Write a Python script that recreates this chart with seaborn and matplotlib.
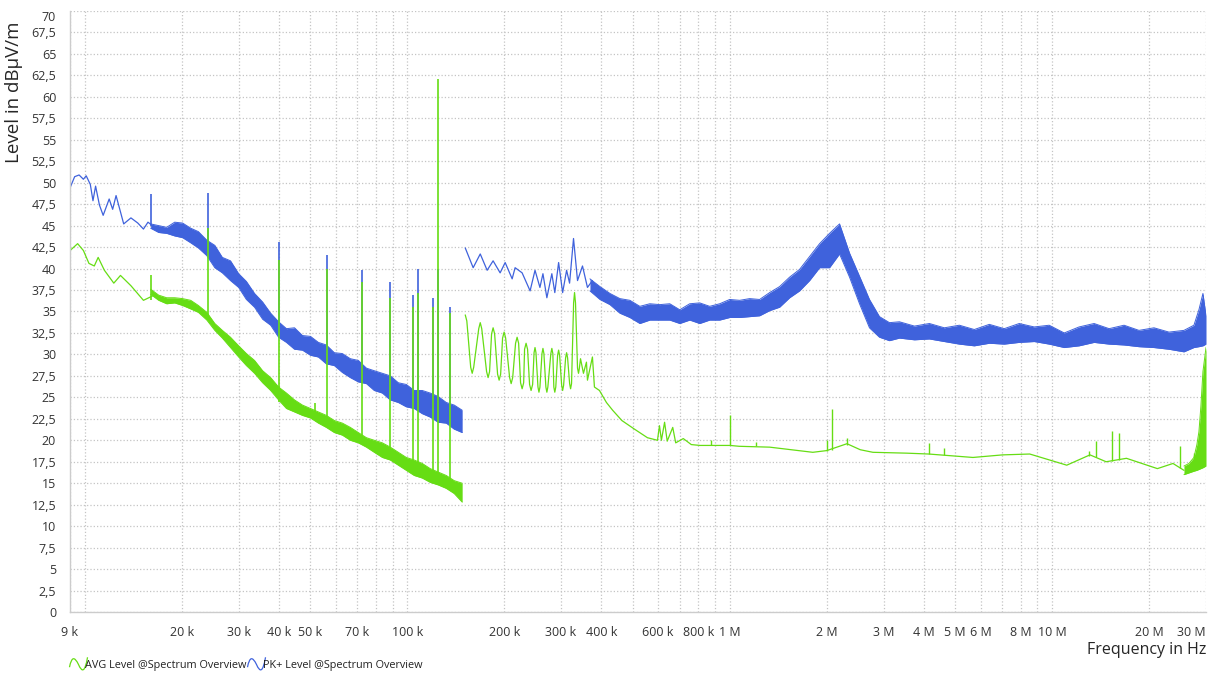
import numpy as np
import pandas as pd
import matplotlib
matplotlib.use('Agg')
import matplotlib.pyplot as plt
import seaborn as sns
from matplotlib.ticker import FixedLocator, LogLocator, FuncFormatter, NullFormatter
from matplotlib.lines import Line2D
from matplotlib.path import Path

# ---- data (frequencies in kHz, levels in dBuV/m) ----
# PK+ band A: clean part 9 k - 16 k as a line, noisy part as an envelope
pk_a_f = [9.0, 9.3, 9.6, 9.9, 10.1, 10.4, 10.6, 10.8, 11.1, 11.4, 11.9, 12.2, 12.5, 12.9, 13.2,
          13.9, 14.6, 15.2, 15.7, 16.2]
pk_a_lvl = [49.4, 50.7, 50.9, 50.4, 50.8, 49.8, 47.9, 49.6, 47.4, 46.2, 48.1, 46.9, 48.5, 46.6, 45.2,
            45.9, 45.3, 44.6, 45.4, 45.0]
pk_a_env_f = [16.0, 16.95, 17.94, 19.0, 20.1, 21.3, 22.5, 23.9, 25.3, 26.7, 28.3, 30.0, 31.7, 33.6,
              35.6, 37.7, 39.9, 42.2, 44.7, 47.3, 50.1, 53.0, 56.1, 59.4, 62.9, 66.6, 70.5, 74.7,
              79.0, 83.7, 88.6, 93.8, 99.3, 105.1, 111.3, 117.8, 124.7, 132.1, 139.8, 148.0]
pk_a_env_hi = [45.2, 45.0, 44.8, 45.4, 45.3, 44.7, 44.3, 43.3, 42.7, 41.3, 40.9, 39.4, 38.5, 37.1,
               36.1, 34.8, 33.8, 33.0, 33.1, 32.2, 32.1, 31.4, 31.1, 30.2, 30.1, 29.5, 29.3, 28.4,
               28.1, 27.8, 27.5, 26.7, 26.5, 25.8, 25.8, 25.5, 25.1, 24.4, 24.1, 23.5]
pk_a_env_lo = [44.7, 44.2, 44.1, 43.8, 43.6, 43.0, 42.4, 41.5, 40.1, 39.5, 38.6, 37.8, 36.4, 35.5,
               34.1, 33.4, 32.0, 31.4, 30.6, 30.5, 29.9, 29.7, 28.9, 28.7, 27.9, 27.3, 26.8, 26.6,
               25.8, 25.5, 24.7, 24.4, 23.9, 23.7, 23.1, 22.7, 22.1, 22.0, 21.3, 20.9]

# PK+ band B: oscillating part 150 k - 375 k as a line, rest as an envelope
pk_b_f = [151.3, 160.1, 168.4, 176.9, 184.6, 194.1, 201.2, 211.5, 216.0, 227.1, 240.4, 249.0,
          257.9, 263.5, 271.0, 280.8, 286.8, 294.7, 303.3, 312.0, 318.7, 327.8, 337.3, 349.5,
          362.1, 375.2]
pk_b_lvl = [42.4, 40.1, 41.7, 39.8, 40.9, 39.5, 40.7, 38.8, 40.1, 39.5, 37.4, 39.8,
            37.8, 39.4, 36.6, 39.4, 37.2, 40.7, 37.2, 39.8, 38.3, 43.5, 38.6, 40.3,
            37.8, 38.6]
pk_b_env_f = [368.6, 395.9, 425.1, 456.5, 490.2, 526.4, 565.3, 607.0, 651.8, 700.0, 751.7, 807.2,
              866.8, 931.1, 1000, 1074, 1153, 1238, 1330, 1428, 1534, 1647, 1769, 1900, 2040,
              2191, 2353, 2527, 2713, 2914, 3129, 3360, 3740, 4162, 4630, 5154, 5735, 6383,
              7103, 7905, 8797, 9788, 10900, 12120, 13490, 15020, 16710, 18590, 20690, 23030,
              25630, 27520, 28520, 29350, 30000]
pk_b_env_hi = [38.8, 37.9, 37.1, 36.5, 36.3, 35.6, 35.9, 35.8, 35.9, 35.2, 35.9, 36.0,
               35.6, 35.9, 36.4, 36.3, 36.5, 36.4, 37.2, 37.9, 39.0, 39.9, 41.4, 42.9, 44.1,
               45.2, 41.8, 39.1, 36.4, 34.4, 33.7, 33.8, 33.3, 33.6, 33.1, 33.4, 32.9, 33.5,
               33.0, 33.6, 33.2, 33.4, 32.5, 33.2, 33.6, 33.0, 33.4, 32.8, 33.1, 32.6,
               32.8, 33.4, 35.2, 37.1, 34.5]
pk_b_env_lo = [37.4, 36.4, 35.8, 34.8, 34.3, 33.6, 34.0, 34.0, 34.0, 33.6, 34.0, 33.6,
               34.0, 34.0, 34.3, 34.3, 34.4, 34.5, 35.1, 35.5, 36.6, 37.4, 38.6, 40.1, 40.1,
               41.7, 39.0, 35.9, 33.1, 32.0, 31.6, 31.9, 31.7, 31.8, 31.5, 31.2, 31.0, 31.3,
               31.2, 31.4, 31.5, 31.2, 30.8, 31.0, 31.4, 31.2, 31.1, 30.9, 30.8, 30.6,
               30.3, 30.8, 30.9, 31.0, 31.2]

# PK+ spikes in band A: frequency, base, top
pk_spk_f = [16.0, 24.1, 40.1, 56.5, 72.5, 88.6, 104.4, 108.2, 120.4, 124.7, 135.9]
pk_spk_base = [45.0, 42.5, 33.0, 29.7, 27.8, 26.2, 25.0, 24.8, 23.8, 23.5, 22.8]
pk_spk_top = [48.7, 48.8, 43.1, 41.6, 39.8, 38.4, 36.9, 40.0, 36.6, 40.0, 35.5]

# AVG band A
avg_a_f = [9.0, 9.5, 9.9, 10.3, 10.7, 11.0, 11.5, 12.3, 12.9, 13.9, 15.2, 16.2]
avg_a_lvl = [42.1, 42.9, 42.1, 40.6, 40.3, 41.3, 39.8, 38.3, 39.2, 38.0, 36.3, 36.8]
avg_a_env_f = pk_a_env_f
avg_a_env_hi = [37.6, 36.9, 36.6, 36.6, 36.5, 36.3, 35.7, 34.9, 33.6, 32.8, 32.0, 31.0, 30.1, 29.3,
                28.1, 27.3, 26.2, 25.5, 24.7, 24.1, 23.7, 23.3, 22.9, 22.3, 22.0, 21.5, 20.9, 20.3,
                20.0, 19.7, 19.2, 18.6, 18.0, 17.7, 17.3, 16.7, 16.3, 15.9, 15.3, 15.0]
avg_a_env_lo = [37.0, 36.3, 35.9, 36.0, 35.7, 35.3, 34.9, 34.0, 32.8, 31.9, 30.8, 29.7, 28.7, 27.8,
                26.7, 25.8, 24.7, 23.7, 23.3, 22.9, 22.6, 22.0, 21.5, 20.9, 20.6, 20.0, 19.7, 19.2,
                18.6, 18.0, 17.7, 17.1, 16.5, 15.9, 15.6, 15.1, 14.8, 14.4, 13.8, 12.8]

avg_spk_f = [16.0, 24.1, 40.1, 51.9, 56.5, 72.5, 88.6, 104.4, 108.2, 120.4, 124.7, 135.9]
avg_spk_base = [36.3, 34.0, 24.5, 22.8, 21.5, 19.6, 18.0, 17.0, 16.8, 15.6, 15.3, 14.6]
avg_spk_top = [39.2, 44.7, 41.0, 24.3, 40.0, 38.4, 36.6, 35.5, 37.1, 35.5, 62.1, 34.8]

# AVG band B (rounded ripple 150 k - 340 k, then the slow decay)
avg_b_f = [151.3, 153.0, 157.3, 159.0, 160.7, 166.6, 168.4, 170.2, 176.2, 178.1, 180.0,
           182.6, 184.6, 186.6, 190.6, 192.7, 194.8, 197.5, 199.7, 201.9, 207.7, 210.0, 212.3,
           216.7, 219.1, 221.5, 224.6, 227.1, 229.6, 231.1, 233.6, 236.1, 239.5, 242.1, 244.8,
           247.3, 249.0, 250.7, 254.3, 256.1, 257.9, 261.7, 263.5, 265.3, 269.1, 271.0, 272.9,
           278.8, 280.8, 282.8, 284.8, 286.8, 288.8, 292.6, 294.7, 296.8, 301.2, 303.3, 305.4,
           309.8, 312.0, 314.2, 318.8, 321.0, 323.2, 328.0, 330.2, 332.5, 337.3, 339.7, 341.5,
           344.6, 351.9, 359.5, 362.1, 375.2, 380.6, 394.5, 403.0, 414.7, 433.4, 463.0, 501.8,
           555.7, 597.0, 605.6, 614, 628.1, 640, 665.8, 680, 717.8, 760, 808.8, 1003, 1070,
           1330, 1810, 2000, 2310, 2540, 2780, 3540, 4140, 5680, 7020, 8520, 11100, 13100,
           14700, 17000, 21200, 23700, 25630]
avg_b_lvl = [34.6, 33.9, 28.5, 27.8, 28.5, 33.0, 33.7, 33.0, 28.0, 27.3, 28.0,
             32.4, 33.1, 32.4, 27.7, 27.0, 27.7, 31.9, 32.6, 31.9, 27.3, 26.6, 27.3,
             31.3, 32.0, 31.3, 26.7, 26.0, 26.7, 30.6, 31.3, 30.6, 26.5, 25.8, 26.5,
             30.2, 30.8, 30.2, 26.2, 25.6, 26.2, 30.1, 30.7, 30.1, 26.2, 25.6, 26.2,
             30.1, 30.7, 30.1, 26.2, 25.6, 26.2, 29.9, 30.5, 29.9, 26.4, 25.8, 26.4,
             29.6, 30.2, 29.6, 26.6, 26.0, 26.6, 36.0, 37.2, 36.0, 28.4, 27.8, 28.3,
             29.5, 27.8, 29.1, 27.0, 29.7, 26.2, 25.8, 25.2, 24.4, 23.5, 22.3, 21.4,
             20.3, 20.0, 21.7, 20.0, 22.1, 19.9, 21.5, 19.7, 20.2, 19.5, 19.4, 19.4, 19.3,
             19.2, 18.6, 18.8, 19.6, 18.9, 18.6, 18.5, 18.4, 18.0, 18.3, 18.4, 17.1, 18.3,
             17.5, 17.9, 16.7, 17.3, 16.5]
avg_b_env_f = [25630, 26560, 27520, 28110, 28520, 28930, 29350, 30000]
avg_b_env_hi = [17.0, 17.3, 18.0, 19.5, 21.0, 24.0, 28.0, 30.8]
avg_b_env_lo = [16.0, 16.2, 16.4, 16.5, 16.6, 16.7, 16.8, 17.0]

avg_b_spk_f = [877.6, 1003, 1207, 2000, 2080, 2310, 4140, 4610, 13000, 13700, 15300, 16100, 24900, 27500]
avg_b_spk_base = [19.4, 19.4, 19.3, 18.8, 18.9, 19.5, 18.4, 18.3, 18.2, 18.0, 17.6, 17.7, 16.8, 16.5]
avg_b_spk_top = [20.0, 22.9, 19.8, 20.0, 23.7, 20.3, 19.7, 19.1, 18.8, 19.9, 21.1, 20.9, 19.3, 18.5]

# axis ticks
x_ticks_khz = [9, 20, 30, 40, 50, 70, 100, 200, 300, 400, 600, 800, 1000, 2000, 3000, 4000,
               5000, 6000, 8000, 10000, 20000, 30000]
x_tick_labels = ['9 k', '20 k', '30 k', '40 k', '50 k', '70 k', '100 k', '200 k', '300 k', '400 k',
                 '600 k', '800 k', '1 M', '2 M', '3 M', '4 M', '5 M', '6 M', '8 M', '10 M',
                 '20 M', '30 M']

GREEN = '#66dd14'
BLUE = '#3f62dc'

sns.set_style('white')
plt.rcParams['font.family'] = ['Open Sans', 'DejaVu Sans']
plt.rcParams['text.color'] = '#222222'
plt.rcParams['xtick.color'] = '#333333'
plt.rcParams['ytick.color'] = '#333333'


def trace(f, lvl, band):
    return pd.DataFrame({'freq': np.array(f) * 1e3, 'level': lvl, 'band': band})


def band(ax, f, lo, hi, color):
    f = np.array(f) * 1e3
    ax.fill_between(f, lo, hi, color=color, lw=0)
    ax.plot(f, lo, color=color, lw=0.7)
    ax.plot(f, hi, color=color, lw=0.7)


pk = pd.concat([trace(pk_a_f, pk_a_lvl, 'A'), trace(pk_b_f, pk_b_lvl, 'B')])
avg = pd.concat([trace(avg_a_f, avg_a_lvl, 'A'), trace(avg_b_f, avg_b_lvl, 'B')])

fig = plt.figure(figsize=(12.1, 6.77), dpi=100)
ax = fig.add_axes([0.0579, 0.096, 0.9388, 0.8878])
ax.set_xscale('log')

# PK+ (drawn first, AVG lies on top)
band(ax, pk_a_env_f, pk_a_env_lo, pk_a_env_hi, BLUE)
band(ax, pk_b_env_f, pk_b_env_lo, pk_b_env_hi, BLUE)
sns.lineplot(data=pk, x='freq', y='level', units='band', estimator=None, sort=False,
             color=BLUE, lw=0.9, ax=ax, legend=False)
ax.vlines(np.array(pk_spk_f) * 1e3, pk_spk_base, pk_spk_top, color=BLUE, lw=1.2)

# AVG
band(ax, avg_a_env_f, avg_a_env_lo, avg_a_env_hi, GREEN)
band(ax, avg_b_env_f, avg_b_env_lo, avg_b_env_hi, GREEN)
sns.lineplot(data=avg, x='freq', y='level', units='band', estimator=None, sort=False,
             color=GREEN, lw=0.9, ax=ax, legend=False)
ax.vlines(np.array(avg_spk_f) * 1e3, avg_spk_base, avg_spk_top, color=GREEN, lw=1.2)
ax.vlines(np.array(avg_b_spk_f) * 1e3, avg_b_spk_base, avg_b_spk_top, color=GREEN, lw=1.0)

# axes
ax.set_xlim(9e3, 3e7)
ax.set_ylim(0, 70)
ax.xaxis.set_major_locator(FixedLocator(np.array(x_ticks_khz) * 1e3))
ax.set_xticklabels(x_tick_labels)
ax.xaxis.set_minor_locator(LogLocator(base=10, subs=np.arange(1, 10), numticks=60))
ax.xaxis.set_minor_formatter(NullFormatter())
ax.set_yticks(np.arange(0, 70.1, 2.5))
ax.yaxis.set_major_formatter(FuncFormatter(lambda v, p: ('%g' % v).replace('.', ',')))
ax.tick_params(axis='both', which='major', labelsize=9, length=5, width=0.8, color='#aaaaaa')
ax.tick_params(axis='x', which='major', pad=5)
ax.tick_params(axis='x', which='minor', length=0)
ax.tick_params(axis='y', pad=5)
ax.get_xticklabels()[-1].set_ha('right')
ax.get_yticklabels()[-1].set_va('top')

ax.grid(True, which='both', axis='x', color='#c4c4c4', linestyle=':', lw=0.9)
ax.grid(True, which='major', axis='y', color='#c4c4c4', linestyle=':', lw=0.9)
for side in ['top', 'right']:
    ax.spines[side].set_visible(False)
for side in ['left', 'bottom']:
    ax.spines[side].set_color('#cccccc')
    ax.spines[side].set_linewidth(1.0)

ax.set_xlabel('Frequency in Hz', fontsize=11.5, loc='right')
ax.xaxis.set_label_coords(1.0, -0.05)
ax.set_ylabel('Level in dBμV/m', fontsize=13.5, loc='top')
ax.yaxis.set_label_coords(-0.041, 0.982)

# small wave icon for the legend
wave = Path([(-1.0, -0.3), (-0.75, 0.9), (-0.45, 0.9), (0.0, 0.0),
             (0.4, -0.9), (0.7, -0.9), (1.0, 0.8)],
            [Path.MOVETO, Path.CURVE4, Path.CURVE4, Path.CURVE4,
             Path.CURVE4, Path.CURVE4, Path.CURVE4])
handles = [Line2D([], [], color=GREEN, marker=wave, markersize=13, markerfacecolor='none',
                  markeredgewidth=0.9, linestyle='None'),
           Line2D([], [], color=BLUE, marker=wave, markersize=13, markerfacecolor='none',
                  markeredgewidth=0.9, linestyle='None')]
fig.legend(handles, ['AVG Level @Spectrum Overview', 'PK+ Level @Spectrum Overview'],
           loc='lower left', bbox_to_anchor=(0.052, -0.005), ncol=2, frameon=False,
           fontsize=7.8, handlelength=1.0, handletextpad=0.15, columnspacing=0.4)

fig.savefig('out.png', dpi=100)
